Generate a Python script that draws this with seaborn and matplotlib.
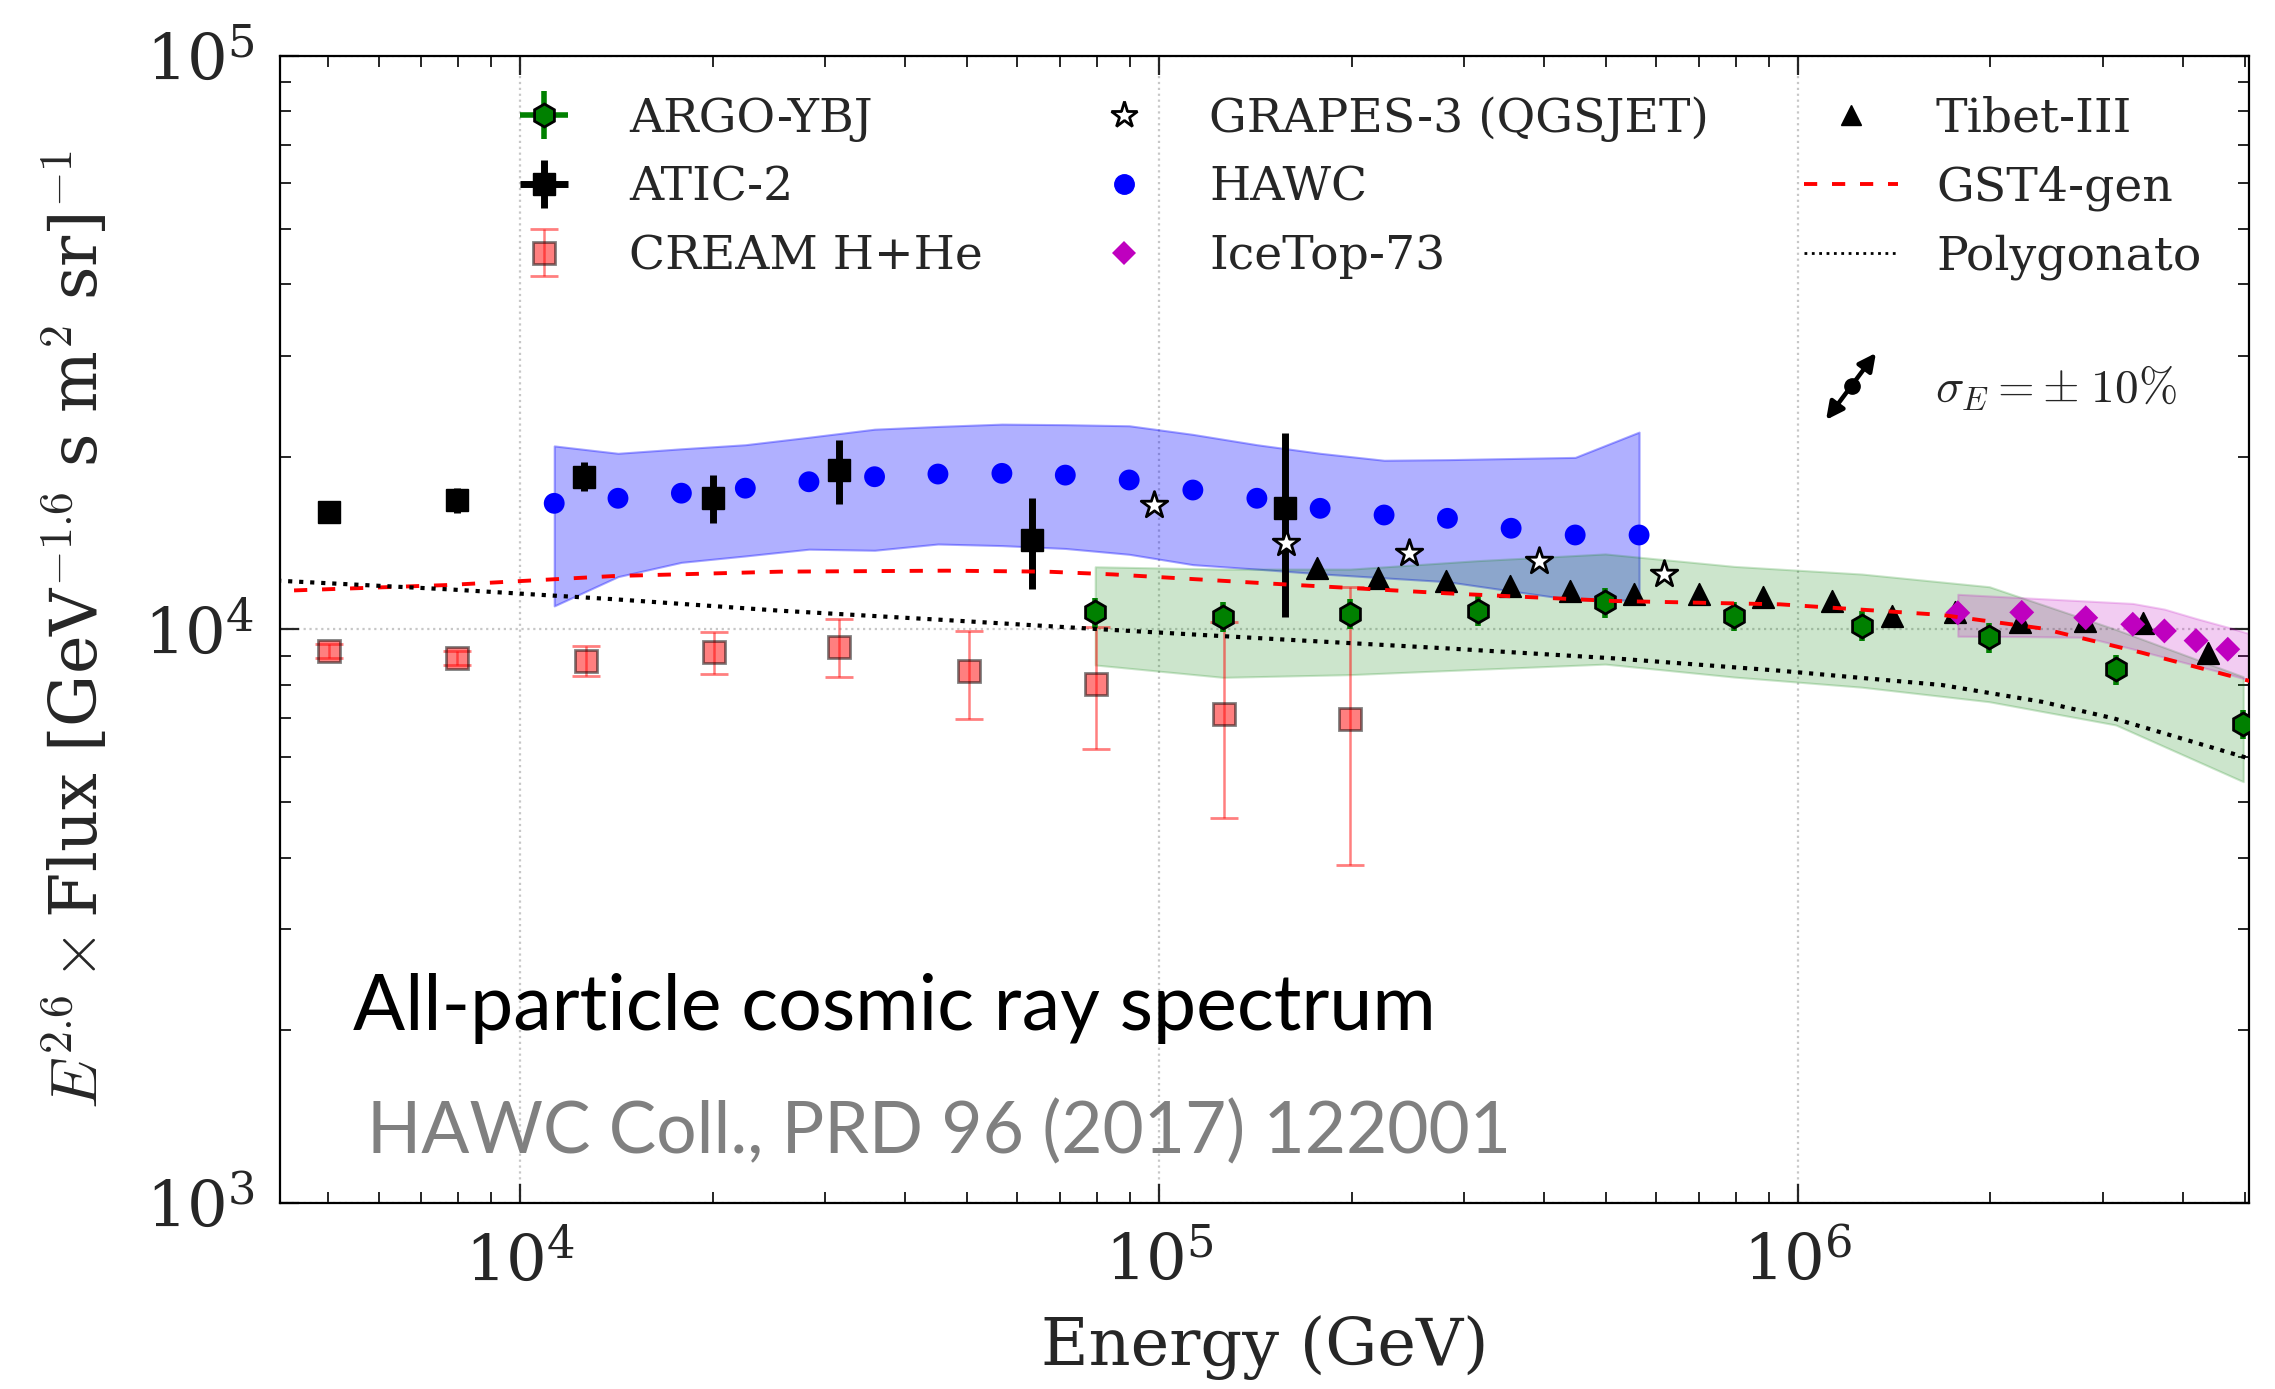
import numpy as np
import matplotlib
matplotlib.use("Agg")
import matplotlib.pyplot as plt
from matplotlib.lines import Line2D
import seaborn as sns

# ---------------- data ----------------
argo_E = [79400, 125800, 199100, 315200, 499000, 793800, 1258000, 1992000, 3142000, 4975000]
argo_F = [10710, 10520, 10640, 10780, 11150, 10550, 10140, 9690, 8520, 6840]
argo_err = [640, 630, 640, 650, 670, 630, 610, 580, 510, 410]
argo_xerr = [0, 0, 0, 0, 0, 0, 0, 0, 0, 0]
argo_band_up = [12860, 12740, 12740, 13180, 13540, 12880, 12490, 11870, 10000, 8270]
argo_band_lo = [8670, 8250, 8340, 8520, 8700, 8260, 7930, 7480, 6815, 5427]

atic_E = [5020, 7960, 12570, 20000, 31500, 63200, 157400]
atic_F = [16030, 16810, 18460, 16930, 18970, 14320, 16260]
atic_err_lo = [500, 850, 1060, 1620, 2420, 2570, 5740]
atic_err_hi = [500, 850, 1140, 1650, 2460, 2610, 5730]
atic_xerr = [0, 0, 0, 0, 0, 0, 0]

cream_E = [5020, 7960, 12670, 20070, 31570, 50300, 79600, 126500, 199100]
cream_F = [9180, 8930, 8820, 9120, 9306, 8470, 8030, 7120, 6980]
cream_err_hi = [250, 250, 550, 765, 1114, 1480, 2060, 3190, 4860]
cream_err_lo = [250, 250, 525, 770, 1056, 1500, 1850, 2425, 3095]

grapes_E = [98200, 158000, 246100, 392500, 617100]
grapes_F = [16480, 14130, 13610, 13160, 12470]

hawc_E = [11300, 14220, 17870, 22500, 28300, 35850, 45050, 56730, 71290,
          89750, 112900, 142200, 178600, 224900, 282600, 355500, 447800, 563800]
hawc_F = [16590, 16930, 17280, 17630, 18090, 18460, 18660, 18710, 18580,
          18220, 17500, 16930, 16260, 15830, 15620, 15010, 14610, 14610]
hawc_band_up = [20890, 20280, 20650, 20990, 21630, 22340, 22590, 22800, 22750,
                22650, 21880, 20990, 20280, 19720, 19770, 19860, 19950, 22080]
hawc_band_lo = [10990, 12360, 13090, 13430, 13800, 13740, 14090, 14000, 13840,
                13520, 12970, 12740, 12500, 12300, 12110, 11670, 11250, 11250]

icetop_E = [1778000, 2239000, 2820000, 3341000, 3744000, 4197000, 4705000]
icetop_F = [10690, 10710, 10480, 10210, 9940, 9560, 9235]
icetop_band_E = [1778000, 2239000, 2820000, 3341000, 3744000, 4197000, 4705000, 5250000]
icetop_band_up = [11515, 11360, 11210, 11100, 10850, 10450, 10090, 9730]
icetop_band_lo = [9730, 9716, 9690, 9245, 8940, 8645, 8360, 8070]

tibet_E = [176500, 219700, 281000, 354200, 439800, 553700, 700800, 880600,
           1129000, 1402000, 1761000, 2226000, 2812000, 3470000, 4386000]
tibet_F = [12780, 12310, 12150, 11920, 11680, 11530, 11530, 11370,
           11220, 10550, 10740, 10310, 10350, 10270, 9085]

gst_E = [4000, 7679, 13996, 25530, 46540, 66710, 84820, 147400, 281900,
         514000, 937100, 1679000, 2407000, 3451000, 5200000]
gst_F = [11650, 11950, 12390, 12610, 12660, 12610, 12470, 12030, 11560,
         11210, 11060, 10600, 10040, 9108, 8080]

poly_E = [4000, 7679, 13996, 25530, 46540, 84820, 154700, 281800, 514000,
          937100, 1679000, 2407000, 3117000, 5066000, 5300000]
poly_F = [12190, 11750, 11290, 10780, 10380, 9977, 9610, 9268, 8905,
          8472, 8000, 7480, 6998, 5962, 5850]

sig_E = [1106000, 1324000]
sig_F = [23190, 30340]
sig_center_E = [1215000]
sig_center_F = [26570]

labels = ["ARGO-YBJ", "ATIC-2", "CREAM H+He", "GRAPES-3 (QGSJET)", "HAWC",
          "IceTop-73", "Tibet-III", "GST4-gen", "Polygonato"]

# ---------------- style ----------------
sns.set_style("ticks")
plt.rcParams.update({
    "font.family": ["DejaVu Serif"],
    "mathtext.fontset": "cm",
    "xtick.direction": "in",
    "ytick.direction": "in",
    "xtick.top": True,
    "ytick.right": True,
    "axes.linewidth": 1.6,
    "axes.edgecolor": "black",
})

fig = plt.figure(figsize=(22.75, 13.89), dpi=100)
ax = fig.add_axes([0.1229, 0.1339, 0.8657, 0.8259])
ax.set_xscale("log")
ax.set_yscale("log")
ax.set_xlim(4.2e3, 5.08e6)
ax.set_ylim(1e3, 1e5)

ax.set_axisbelow(True)
ax.grid(True, which="major", color="0.78", linestyle=":", linewidth=1.6)
ax.grid(False, which="minor")

# bands
ax.fill_between(hawc_E, hawc_band_lo, hawc_band_up, facecolor=(0, 0, 1, 0.31),
                edgecolor=(0, 0, 1, 0.35), linewidth=1.5, zorder=1)
ax.fill_between(argo_E, argo_band_lo, argo_band_up, facecolor=(0, 0.5, 0, 0.2),
                edgecolor=(0, 0.5, 0, 0.2), linewidth=1.5, zorder=1)
ax.fill_between(icetop_band_E, icetop_band_lo, icetop_band_up,
                facecolor=(0.75, 0, 0.75, 0.2), edgecolor=(0.75, 0, 0.75, 0.2),
                linewidth=1.5, zorder=1)

# error-bar series
h_argo = ax.errorbar(argo_E, argo_F, yerr=argo_err, xerr=argo_xerr, fmt="h",
                     color="green", mfc="green", mec="k", mew=2, ms=16.5,
                     elinewidth=4, capsize=0, zorder=4)
h_atic = ax.errorbar(atic_E, atic_F, yerr=[atic_err_lo, atic_err_hi], xerr=atic_xerr,
                     fmt="s", color="k", ms=16, elinewidth=5, capsize=0, zorder=3)
h_cream = ax.errorbar(cream_E, cream_F, yerr=[cream_err_lo, cream_err_hi], fmt="s",
                      mfc=(1, 0, 0, 0.5), mec=(0, 0, 0, 0.5), mew=2, ms=16,
                      ecolor=(1, 0, 0, 0.5), elinewidth=1.8, capsize=10,
                      capthick=1.8, zorder=3)

# seaborn scatter series
sns.scatterplot(x=hawc_E, y=hawc_F, marker="o", s=15 ** 2, color="blue",
                edgecolor="none", ax=ax, legend=False, zorder=3)
sns.scatterplot(x=tibet_E, y=tibet_F, marker="^", s=15.5 ** 2, color="k",
                edgecolor="k", ax=ax, legend=False, zorder=3)
sns.scatterplot(x=icetop_E, y=icetop_F, marker="D", s=12.7 ** 2, color=(0.75, 0, 0.75),
                edgecolor="none", ax=ax, legend=False, zorder=4)
sns.scatterplot(x=grapes_E, y=grapes_F, marker="*", s=20 ** 2, color="white",
                edgecolor="k", linewidth=2, ax=ax, legend=False, zorder=5)

# model lines
sns.lineplot(x=gst_E, y=gst_F, color="red", linewidth=2.8, linestyle="--",
             estimator=None, ax=ax, legend=False, zorder=6)
l_gst = ax.lines[-1]
l_gst.set_dashes((3.4, 3.8))
sns.lineplot(x=poly_E, y=poly_F, color="k", linewidth=3.0, linestyle=":",
             estimator=None, ax=ax, legend=False, zorder=6)
l_poly = ax.lines[-1]

ax.set_xlim(4.2e3, 5.08e6)
ax.set_ylim(1e3, 1e5)

# energy-scale arrow
ax.annotate("", xy=(sig_E[1], sig_F[1]), xytext=(sig_E[0], sig_F[0]),
            arrowprops=dict(arrowstyle="<|-|>", color="k", lw=3.2,
                            mutation_scale=26, shrinkA=0, shrinkB=0), zorder=7)
ax.plot(sig_center_E, sig_center_F, "o", color="k", ms=11, zorder=8)
ax.text(1.64e6, 26400, r"$\sigma_E = \pm\;10\%$", fontsize=34, va="center")

# texts
ax.text(0.0371, 0.1508, "All-particle cosmic ray spectrum", transform=ax.transAxes,
        fontsize=55.5, family=["Lato", "DejaVu Sans"], color="black", va="baseline")
ax.text(0.0444, 0.0431, "HAWC Coll., PRD 96 (2017) 122001", transform=ax.transAxes,
        fontsize=51.2, family=["Lato", "DejaVu Sans"], color="#808080", va="baseline")

# legend
hd_grapes = Line2D([], [], marker="*", ls="none", mfc="white", mec="k", ms=20, mew=2)
hd_hawc = Line2D([], [], marker="o", ls="none", color="blue", ms=14)
hd_ice = Line2D([], [], marker="D", ls="none", color=(0.75, 0, 0.75), ms=12.7, mew=0)
hd_tibet = Line2D([], [], marker="^", ls="none", color="k", ms=15)
hd_gst = Line2D([], [], color="red", lw=2.8, dashes=(3.4, 3.8))
hd_poly = Line2D([], [], color="k", lw=2.0, ls=":")
handles = [h_argo, h_atic, h_cream, hd_grapes, hd_hawc, hd_ice, hd_tibet, hd_gst, hd_poly]
ax.legend(handles, labels, ncol=3, loc="upper center", bbox_to_anchor=(0.543, 1.0),
          frameon=False, fontsize=34, numpoints=1, handlelength=2.0,
          handletextpad=0.8, columnspacing=2.0, borderaxespad=0.45)

# axes labels & ticks
ax.set_xlabel("Energy (GeV)", fontsize=47)
ax.set_ylabel(r"$E^{2.6}\times$Flux [GeV$^{-1.6}$ s m$^2$ sr]$^{-1}$", fontsize=47)
ax.xaxis.set_label_coords(0.5, -0.098)
ax.yaxis.set_label_coords(-0.085, 0.5)
ax.tick_params(which="major", length=14, width=1.6, labelsize=46)
ax.tick_params(which="minor", length=8, width=1.4)
ax.tick_params(axis="x", which="major", pad=21)
ax.tick_params(axis="y", which="major", pad=18)
for sp in ax.spines.values():
    sp.set_linewidth(1.6)

fig.savefig("out.png", dpi=100)
